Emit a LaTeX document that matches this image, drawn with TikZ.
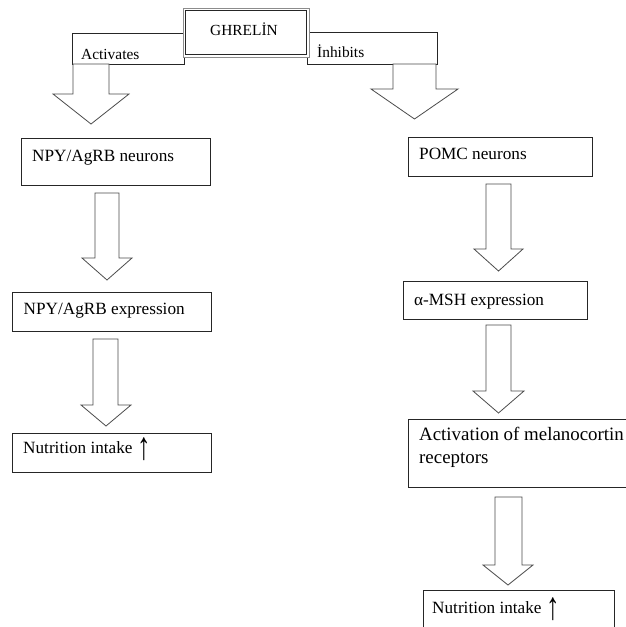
\documentclass[tikz,border=0pt]{standalone}
\usepackage{fontspec}
\setmainfont{Liberation Serif}
\newcommand\blockarr[7]{%
  \draw[barrowst] (#1,#3) -- (#1,#4) -- (#5,#4) -- ({(#5+#6)/2},#7) -- (#6,#4) -- (#2,#4) -- (#2,#3) -- cycle;}
\newcommand\uparr{\raisebox{-6pt}[14pt][4pt]{\scalebox{0.9}[1.3]{\fontsize{30}{30}\selectfont ↑}}}
\begin{document}
\begin{tikzpicture}[x=1pt,y=-1pt,
  box/.style={draw=black!85, line width=0.8pt, fill=white, inner sep=0pt, outer sep=0pt, anchor=north west},
  lbl/.style={anchor=base west, inner sep=0pt, font=\fontsize{17.2}{20}\selectfont},
  toplbl/.style={anchor=base west, inner sep=0pt, font=\fontsize{15.4}{18}\selectfont},
  biglbl/.style={anchor=base west, inner sep=0pt, font=\fontsize{18.9}{23}\selectfont},
  barrowst/.style={draw=black!70, line width=0.8pt, fill=white, line join=miter}]
\useasboundingbox (0,0) rectangle (625,627);
\fill[white] (0,0) rectangle (625,627);

% top row
\node[box, minimum width=112pt, minimum height=31pt] (act) at (72,33) {};
\node[box, minimum width=130pt, minimum height=32pt] (inh) at (307,32) {};
\node[box, draw=black!45, line width=0.7pt, minimum width=126pt, minimum height=49pt] (ghr) at (183,8) {};
\node[draw=black!85, line width=0.9pt, inner sep=0pt, minimum width=121pt, minimum height=44pt] (ghrin) at (ghr.center) {};
\node[toplbl] (ghrt) at (210,35) {GHRELİN};
\node[toplbl] (actt) at (81,59) {Activates};
\node[toplbl] (inht) at (317,57) {İnhibits};

% left column
\node[box, minimum width=189pt, minimum height=47pt] (npyn) at (21,138) {};
\node[lbl] (npynt) at (32,161) {NPY/AgRB neurons};
\node[box, minimum width=199pt, minimum height=39pt] (npye) at (12,292) {};
\node[lbl] (npyet) at (23.5,314) {NPY/AgRB expression};
\node[box, minimum width=199pt, minimum height=39pt] (nutl) at (12,433) {};
\node[lbl] (nutlt) at (23,453) {Nutrition intake\hspace{0.3em}\uparr};

% right column
\node[box, minimum width=184pt, minimum height=39pt] (pomc) at (408,137) {};
\node[lbl] (pomct) at (419,159) {POMC neurons};
\node[box, minimum width=184pt, minimum height=38pt] (msh) at (403,281) {};
\node[lbl] (msht) at (414,305) {α-MSH expression};
\node[box, minimum width=220pt, minimum height=68pt] (mc) at (408,419) {};
\node[biglbl] (mct) at (419,440) {Activation of melanocortin};
\node[biglbl] (mct2) at (419,463) {receptors};
\node[box, minimum width=191pt, minimum height=42pt] (nutr) at (423,590) {};
\node[lbl] (nutrt) at (432,613) {Nutrition intake\hspace{0.3em}\uparr};

% block arrows
\blockarr{73}{109}{64}{94}{53}{129}{124}
\blockarr{393}{436}{64}{89}{371}{458}{119}
\blockarr{95}{119}{193}{258}{82}{132}{280}
\blockarr{93}{118}{339}{405}{81}{131}{426}
\blockarr{486}{511}{184}{249}{474}{523}{271}
\blockarr{486}{511}{325}{391}{473}{524}{413}
\blockarr{495}{522}{497}{565}{483}{533}{585}
\end{tikzpicture}
\end{document}
